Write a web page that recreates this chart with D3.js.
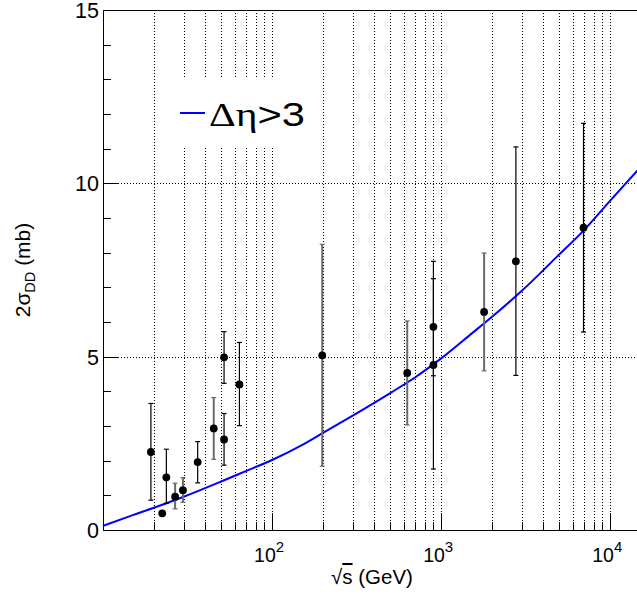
<!DOCTYPE html>
<html><head><meta charset="utf-8">
<script src="https://cdn.jsdelivr.net/npm/d3@7"></script>
<style>body{margin:0;background:#fff}svg{display:block}</style>
</head><body>
<svg id="c" width="637" height="596"></svg>
<script>
// ---- data ----
const energies = [19.2, 22.4, 23.7, 26.7, 29.7, 36.3, 45.2, 52, 52, 64.1, 198, 630, 900, 900, 1795, 2767, 6950];
const sigmaDD  = [2.25, 0.48, 1.52, 0.96, 1.15, 1.96, 2.93, 4.98, 2.61, 4.20, 5.04, 4.53, 5.86, 4.76, 6.29, 7.75, 8.72];
const errUp    = [1.40, 0.00, 0.81, 0.39, 0.36, 0.59, 0.89, 0.74, 0.75, 1.21, 3.20, 1.50, 1.89, 2.49, 1.70, 3.30, 3.01];
const errDown  = [1.39, 0.00, 0.75, 0.35, 0.35, 0.60, 0.89, 0.75, 0.74, 1.19, 3.20, 1.50, 1.41, 3.00, 1.70, 3.29, 3.01];
const errGray  = [false,false,false,true,true,false,true,false,false,false,true,true,false,false,true,false,false];
const curveEnergy = [10, 15, 20, 30, 50, 70, 100, 150, 200, 300, 500, 700, 1000, 1500, 2000, 3000, 5000, 7000, 10000, 15000];
const curveSigma  = [0.12, 0.43, 0.64, 0.96, 1.40, 1.70, 2.02, 2.45, 2.80, 3.30, 3.95, 4.40, 4.95, 5.65, 6.15, 6.90, 7.95, 8.65, 9.50, 10.45];
const yMajorTicks = [0, 5, 10, 15];
const xMajorTicks = [100, 1000, 10000];
const legendLabel = "Δη>3";

// ---- layout ----
const L = 103, R = 640, T = 10, B = 530;
const svg = d3.select("#c");
const x = d3.scaleLog().domain([10, 15000]).range([L, R]);
const y = d3.scaleLinear().domain([0, 15]).range([B, T]);
const sans = "'Liberation Sans', Arial, sans-serif";

// minor/major log ticks
const xAll = [];
for (let p = 1; p <= 4; p++) for (let m = 1; m <= 9; m++) {
  const v = m * Math.pow(10, p);
  if (v > 10 && v <= 15000) xAll.push(v);
}
const px = v => Math.round(x(v)) + 0.5;
const py = v => Math.round(y(v)) + 0.5;

// grid
const grid = svg.append("g").attr("stroke", "#000").attr("stroke-width", 1).attr("stroke-dasharray", "1,2");
grid.selectAll("line.v").data(xAll).join("line")
  .attr("x1", d => px(d)).attr("x2", d => px(d)).attr("y1", T).attr("y2", B);
grid.selectAll("line.h").data([5, 10]).join("line")
  .attr("x1", L).attr("x2", R).attr("y1", d => py(d)).attr("y2", d => py(d));

// legend background
svg.append("rect").attr("x", 165).attr("y", 77).attr("width", 148).attr("height", 71).attr("fill", "#fff");

// frame / axes
const ax = svg.append("g").attr("stroke", "#000").attr("stroke-width", 1);
ax.append("line").attr("x1", L + 0.5).attr("x2", L + 0.5).attr("y1", T).attr("y2", B + 1);
ax.append("line").attr("x1", L).attr("x2", R).attr("y1", B + 0.5).attr("y2", B + 0.5);
ax.append("line").attr("x1", L).attr("x2", R).attr("y1", T + 0.5).attr("y2", T + 0.5);

// y ticks
const yTicks = d3.range(0, 16);
ax.selectAll("line.yt").data(yTicks).join("line")
  .attr("x1", L).attr("x2", d => L + (d % 5 === 0 ? 15 : 8))
  .attr("y1", d => py(d)).attr("y2", d => py(d));
// x ticks
ax.selectAll("line.xt").data(xAll).join("line")
  .attr("x1", d => px(d)).attr("x2", d => px(d))
  .attr("y1", B).attr("y2", d => B - (xMajorTicks.includes(d) ? 17 : 8));

// y tick labels
svg.selectAll("text.yl").data(yMajorTicks).join("text")
  .attr("x", 99).attr("y", d => y(d) + 8).attr("text-anchor", "end")
  .attr("font-family", sans).attr("font-size", 21.5).text(d => d);

// x tick labels
xMajorTicks.forEach(v => {
  const t = svg.append("text").attr("x", x(v) - 18).attr("y", 562)
    .attr("font-family", sans).attr("font-size", 19.5);
  t.append("tspan").text("10");
  t.append("tspan").attr("dy", -10).attr("font-size", 15).text(Math.round(Math.log10(v)));
});

// axis titles
const xt = svg.append("text").attr("x", 372).attr("y", 584).attr("text-anchor", "middle")
  .attr("font-family", sans).attr("font-size", 20.5);
xt.append("tspan").text("√");
xt.append("tspan").attr("style", "text-decoration: overline").text("s");
xt.append("tspan").text(" (GeV)");

const yt = svg.append("text").attr("transform", "translate(30,270) rotate(-90)")
  .attr("text-anchor", "middle").attr("font-family", sans).attr("font-size", 21);
yt.append("tspan").text("2σ");
yt.append("tspan").attr("dy", 5).attr("font-size", 14.5).text("DD");
yt.append("tspan").attr("dy", -5).text(" (mb)");

// curve
const line = d3.line().x((d, i) => x(curveEnergy[i])).y(d => y(d)).curve(d3.curveMonotoneX);
svg.append("path").datum(curveSigma).attr("d", line)
  .attr("fill", "none").attr("stroke", "#0000ff").attr("stroke-width", 2);

// error bars
const pts = energies.map((e, i) => ({e, s: sigmaDD[i], up: errUp[i], dn: errDown[i], g: errGray[i]}));
const eb = svg.append("g");
pts.filter(d => d.up > 0 || d.dn > 0).forEach(d => {
  const col = d.g ? "#6a6a6a" : "#000";
  const w = d.g ? 2 : 1.2;
  const cx = x(d.e);
  eb.append("line").attr("x1", cx).attr("x2", cx).attr("y1", y(d.s + d.up)).attr("y2", y(d.s - d.dn))
    .attr("stroke", col).attr("stroke-width", w);
  [d.s + d.up, d.s - d.dn].forEach(v => {
    eb.append("line").attr("x1", cx - 2.5).attr("x2", cx + 2.5).attr("y1", y(v)).attr("y2", y(v))
      .attr("stroke", col).attr("stroke-width", 1.2);
  });
});
// markers
svg.append("g").selectAll("circle").data(pts).join("circle")
  .attr("cx", d => x(d.e)).attr("cy", d => y(d.s)).attr("r", 3.9).attr("fill", "#000");

// legend
svg.append("line").attr("x1", 180).attr("x2", 205).attr("y1", 113).attr("y2", 113)
  .attr("stroke", "#0000ff").attr("stroke-width", 2);
const lt = svg.append("text").attr("x", 209).attr("y", 126).attr("font-size", 33)
  .attr("textLength", 96).attr("lengthAdjust", "spacingAndGlyphs");
lt.append("tspan").attr("font-family", "'Liberation Serif', 'Times New Roman', serif").text(legendLabel.slice(0, 2));
lt.append("tspan").attr("font-family", sans).text(legendLabel.slice(2));
</script>
</body></html>
